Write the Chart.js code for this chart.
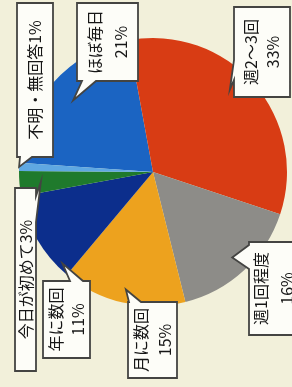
<!DOCTYPE html>
<html>
<head>
<meta charset="utf-8">
<script src="https://cdn.jsdelivr.net/npm/chart.js@4"></script>
<style>
  html, body { margin: 0; padding: 0; background: #f2f0da; }
  #wrap { width: 292px; height: 387px; }
</style>
</head>
<body>
<div id="wrap"><canvas id="pie" width="292" height="387"></canvas></div>
<script>
// ---- data ----
const categories = ['ほぼ毎日', '週2～3回', '週1回程度', '月に数回', '年に数回', '今日が初めて', '不明・無回答'];
const percents = [21, 33, 16, 15, 11, 3, 1];
const sliceColors = ['#1b64c2', '#d83c14', '#8d8c88', '#eda21e', '#0c2e8c', '#1f7a2c', '#5fa8e2'];

// callout boxes (layout only): box rect, which side the pointer leaves from, pointer base, and where the tip lands in the slice
const callouts = [
  { i: 0, box: [77, 3, 61, 78], side: 'bottom', base: [82, 96], t: 0.5, r: 0.8, lines: 2, gap: 26 },
  { i: 1, box: [234, 7, 56, 90], side: 'left', base: [60, 80], t: 0.45, r: 0.84, lines: 2, gap: 22 },
  { i: 2, box: [249, 242, 50, 93], side: 'left', base: [245, 269], t: 0.5, r: 0.87, lines: 2, gap: 26 },
  { i: 3, box: [128, 302, 49, 76], side: 'top', base: [129, 141], t: 0.5, r: 0.9, lines: 2, gap: 24 },
  { i: 4, box: [43, 281, 47, 77], side: 'top', base: [70, 83], t: 0.12, r: 0.96, lines: 2, gap: 22 },
  { i: 5, box: [15, 188, 21, 183], side: 'right', base: [196, 222], t: 0.5, r: 0.84, lines: 1 },
  { i: 6, box: [17, 3, 36, 154], side: 'bottom', base: [20, 32], t: 0.5, r: 1.0, lines: 1 }
];

const calloutPlugin = {
  id: 'callouts',
  afterDatasetsDraw(chart) {
    const ctx = chart.ctx;
    const arcs = chart.getDatasetMeta(0).data;
    ctx.save();
    callouts.forEach(c => {
      const a = arcs[c.i];
      const ang = a.startAngle + (a.endAngle - a.startAngle) * c.t;
      const tip = [a.x + Math.cos(ang) * a.outerRadius * c.r, a.y + Math.sin(ang) * a.outerRadius * c.r];
      const [x, y, w, h] = c.box;
      const [b1, b2] = c.base;
      const pts = [[x, y]];
      if (c.side === 'top') pts.push([b1, y], tip, [b2, y]);
      pts.push([x + w, y]);
      if (c.side === 'right') pts.push([x + w, b1], tip, [x + w, b2]);
      pts.push([x + w, y + h]);
      if (c.side === 'bottom') pts.push([b2, y + h], tip, [b1, y + h]);
      pts.push([x, y + h]);
      if (c.side === 'left') pts.push([x, b2], tip, [x, b1]);
      ctx.beginPath();
      pts.forEach((p, k) => k ? ctx.lineTo(p[0], p[1]) : ctx.moveTo(p[0], p[1]));
      ctx.closePath();
      ctx.fillStyle = '#fdfdf8';
      ctx.fill();
      ctx.lineWidth = 1.8;
      ctx.strokeStyle = '#444442';
      ctx.stroke();

      // vertical text, reading bottom to top
      ctx.save();
      ctx.translate(x + w / 2, y + h / 2);
      ctx.rotate(-Math.PI / 2);
      ctx.fillStyle = '#161616';
      ctx.textAlign = 'center';
      ctx.textBaseline = 'middle';
      ctx.font = '16px "Noto Sans CJK JP"';
      if (c.lines === 1) {
        ctx.fillText(categories[c.i] + percents[c.i] + '%', 0, 0);
      } else {
        ctx.fillText(categories[c.i], 0, -c.gap / 2);
        ctx.fillText(percents[c.i] + '%', 0, c.gap / 2);
      }
      ctx.restore();
    });
    ctx.restore();
  }
};

new Chart(document.getElementById('pie'), {
  type: 'pie',
  data: {
    labels: categories,
    datasets: [{ data: percents, backgroundColor: sliceColors, borderWidth: 0 }]
  },
  options: {
    responsive: false,
    animation: false,
    rotation: 274,
    layout: { padding: { left: 19, right: 5, top: 38, bottom: 81 } },
    plugins: { legend: { display: false }, tooltip: { enabled: false } }
  },
  plugins: [calloutPlugin]
});
</script>
</body>
</html>
